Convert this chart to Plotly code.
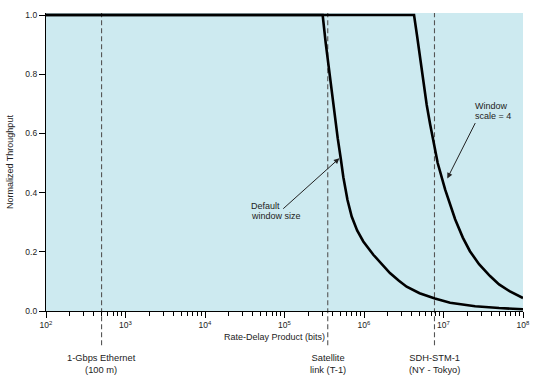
import numpy as np
import plotly.graph_objects as go

# ---- data ----
# Default window size curve: rate-delay product (bits) vs normalized throughput
default_rdp = [1e2, 3.02e5, 3.30e5, 3.66e5, 4.11e5, 4.67e5, 5.09e5, 5.50e5, 6.2e5, 7.0e5,
               8.2e5, 9.8e5, 1.31e6, 1.70e6, 2.12e6, 2.75e6, 3.44e6, 5.0e6, 7.8e6,
               1.21e7, 2.5e7, 5.0e7, 1e8]
default_thr = [1.0, 1.0, 0.905, 0.808, 0.696, 0.584, 0.517, 0.452, 0.375, 0.319,
               0.272, 0.235, 0.190, 0.155, 0.128, 0.102, 0.082, 0.060, 0.042,
               0.028, 0.016, 0.010, 0.006]

# Window scale = 4 curve
scaled_rdp = [1e2, 4.26e6, 4.65e6, 5.06e6, 5.55e6, 6.15e6, 6.8e6, 7.45e6, 8.45e6,
              1.05e7, 1.40e7, 1.75e7, 2.15e7, 2.8e7, 3.85e7, 5.0e7, 6.85e7, 1e8]
scaled_thr = [1.0, 1.0, 0.93, 0.862, 0.775, 0.696, 0.630, 0.575, 0.50,
              0.410, 0.310, 0.248, 0.202, 0.158, 0.118, 0.090, 0.066, 0.044]

# Reference links (vertical dashed markers)
link_labels = ["1-Gbps Ethernet<br>(100 m)", "Satellite<br>link (T-1)", "SDH-STM-1<br>(NY - Tokyo)"]
link_rdp = [5.0e2, 3.5e5, 7.7e6]

x_tick_vals = [1e2, 1e3, 1e4, 1e5, 1e6, 1e7, 1e8]
x_tick_text = ["10<sup>2</sup>", "10<sup>3</sup>", "10<sup>4</sup>", "10<sup>5</sup>",
               "10<sup>6</sup>", "10<sup>7</sup>", "10<sup>8</sup>"]
minor_vals = [m * 10 ** e for e in range(2, 8) for m in range(2, 10)]
y_tick_vals = [0.0, 0.2, 0.4, 0.6, 0.8, 1.0]

FONT = "Liberation Sans, Arial, sans-serif"
TXT = "#222222"

# plot area in pixels (left, right, top, bottom)
PL, PR, PT, PB = 46, 523, 15, 311


def py(pix):
    """paper y for a pixel row"""
    return (PB - pix) / (PB - PT)


fig = go.Figure()
for xs, ys in [(default_rdp, default_thr), (scaled_rdp, scaled_thr)]:
    fig.add_trace(go.Scatter(x=xs, y=ys, mode="lines",
                             line=dict(color="black", width=2.6),
                             showlegend=False, hoverinfo="skip"))

for val, lab in zip(link_rdp, link_labels):
    fig.add_shape(type="line", xref="x", yref="paper", x0=val, x1=val,
                  y0=py(345), y1=1.0, line=dict(color="#555555", width=1.1, dash="5px,3px"),
                  layer="below")
    fig.add_annotation(x=np.log10(val), xref="x", yref="paper", y=py(363.5),
                       yanchor="middle", xanchor="center", showarrow=False,
                       text=lab, font=dict(size=9.3, color=TXT, family=FONT), align="center")

# curve annotations
fig.add_annotation(x=5.690, y=0.516, ax=4.965, ay=0.341, xref="x", yref="y",
                   axref="x", ayref="y", showarrow=True, arrowhead=2, arrowsize=1.1,
                   arrowwidth=1, arrowcolor="#222", text="")
for txt, pix in [("Default", 207), ("window size", 217)]:
    fig.add_annotation(x=4.553, y=py(pix), xref="x", yref="paper", xanchor="left",
                       yanchor="middle", text=txt, showarrow=False,
                       font=dict(size=9, color=TXT, family=FONT))
fig.add_annotation(x=7.048, y=0.448, ax=7.409, ay=0.640, xref="x", yref="y",
                   axref="x", ayref="y", showarrow=True, arrowhead=2, arrowsize=1.1,
                   arrowwidth=1, arrowcolor="#222", text="")
for txt, pix in [("Window", 107), ("scale = 4", 117)]:
    fig.add_annotation(x=7.37, y=py(pix), xref="x", yref="paper", xanchor="left",
                       yanchor="middle", text=txt, showarrow=False,
                       font=dict(size=9, color=TXT, family=FONT))

# axis titles
fig.add_annotation(x=(274 - PL) / (PR - PL), y=py(337), xref="paper", yref="paper",
                   xanchor="center", yanchor="middle", showarrow=False,
                   text="Rate-Delay Product (bits)", font=dict(size=9, color=TXT, family=FONT))
fig.add_annotation(x=(10 - PL) / (PR - PL), y=py(163), xref="paper", yref="paper",
                   textangle=-90, xanchor="center", yanchor="middle", showarrow=False,
                   text="Normalized Throughput", font=dict(size=9, color=TXT, family=FONT))

fig.update_layout(
    width=533, height=379, autosize=False,
    margin=dict(l=PL, r=533 - PR, t=13, b=379 - PB, autoexpand=False),
    paper_bgcolor="white", plot_bgcolor="#cdeaf0",
    font=dict(family=FONT, size=9, color=TXT),
    xaxis=dict(type="log", range=[2, 8], tickvals=x_tick_vals, ticktext=x_tick_text,
               ticks="outside", ticklen=6, tickcolor="black", tickwidth=1,
               showline=True, linecolor="black", linewidth=1.2, showgrid=False,
               zeroline=False, automargin=False, tickfont=dict(size=8.5, color=TXT),
               minor=dict(ticks="outside", ticklen=4, tickcolor="black",
                          tickmode="array", tickvals=minor_vals, showgrid=False)),
    yaxis=dict(range=[0, 298 / 296], tickvals=y_tick_vals, tickformat=".1f",
               ticks="outside", ticklen=6, tickcolor="black", tickwidth=1,
               showline=True, linecolor="black", linewidth=1.2, showgrid=False,
               zeroline=False, automargin=False, tickfont=dict(size=8.5, color=TXT)),
)

fig.write_html("out.html", config={"displayModeBar": False},
               post_script="document.body.style.margin='0';document.body.style.overflow='hidden';")
